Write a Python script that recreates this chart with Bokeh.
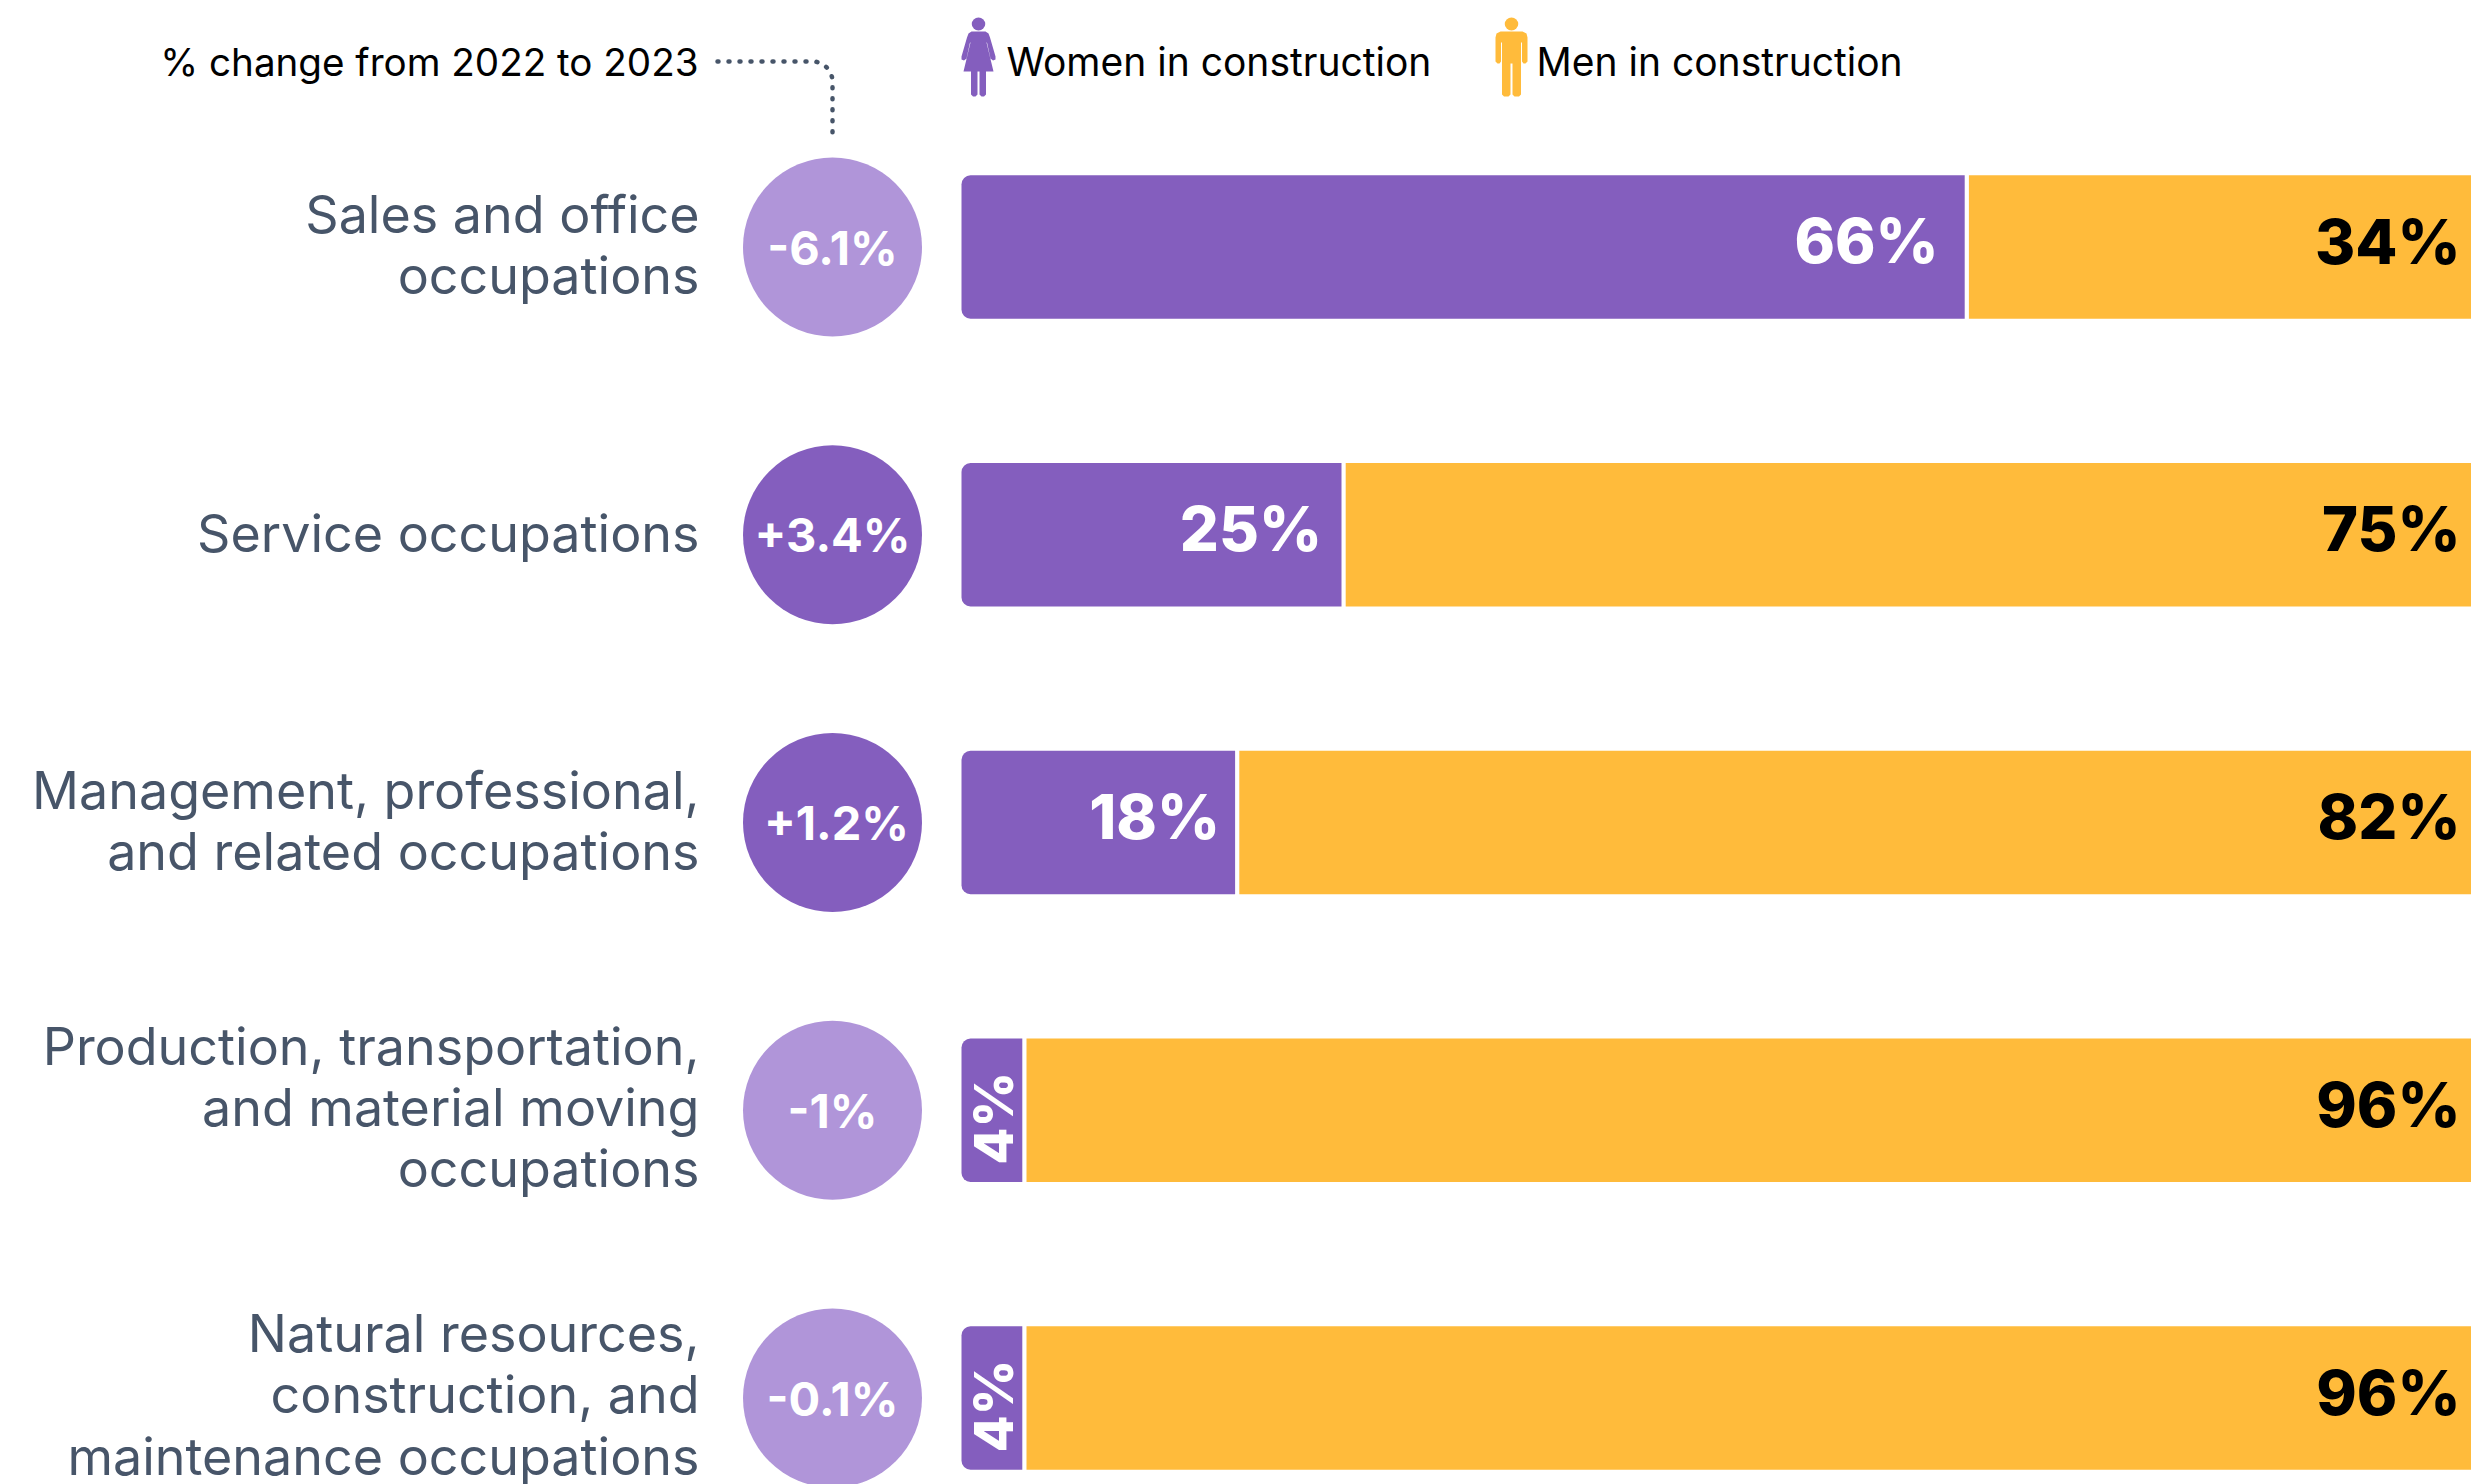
from bokeh.plotting import figure
from bokeh.models import Range1d
from bokeh.core.properties import value
from bokeh.embed import file_html
from bokeh.resources import INLINE
import math

categories = [
    "Sales and office\noccupations",
    "Service occupations",
    "Management, professional,\nand related occupations",
    "Production, transportation,\nand material moving\noccupations",
    "Natural resources,\nconstruction, and\nmaintenance occupations",
]
women = [66, 25, 18, 4, 4]
men = [34, 75, 82, 96, 96]
change = [-6.1, 3.4, 1.2, -1, -0.1]
change_labels = ["-6.1%", "+3.4%", "+1.2%", "-1%", "-0.1%"]
header = "% change from 2022 to 2023"
legend_women = "Women in construction"
legend_men = "Men in construction"

PURPLE = "#845EBE"
LIGHT = "#B095D9"
ORANGE = "#FFBB3B"
SLATE = "#475569"
FONT = value("Inter")
HEAVY = value("Inter ExtraBold")

W, H = 2471, 1484
X0, PX_PER = 961.0, 15.2
Y0, ROW = 246.5, 287.75
GAP = 4.2 / PX_PER
BAR_H = 143.5 / ROW
rows = list(range(len(categories)))

p = figure(width=W, height=H, toolbar_location=None, output_backend="svg",
           x_range=Range1d(-X0 / PX_PER, (W - X0) / PX_PER),
           y_range=Range1d((H - Y0) / ROW, -Y0 / ROW),
           min_border=0, styles={"position": "absolute", "left": "0px", "top": "0px"})
p.extra_x_ranges = {"px": Range1d(0, W)}
p.extra_y_ranges = {"py": Range1d(H, 0)}
p.xaxis.visible = False
p.yaxis.visible = False
p.grid.visible = False
p.outline_line_color = None
p.background_fill_color = "white"
p.border_fill_color = "white"

# bars
p.hbar(y=rows, left=[w + GAP for w in women], right=[w + m for w, m in zip(women, men)],
       height=BAR_H, color=ORANGE, line_color=None)
p.hbar(y=rows, left=[0] * 5, right=women, height=BAR_H, color=PURPLE, line_color=None,
       border_radius=(9, 0, 0, 9))

# value labels in bars
big = [i for i in rows if women[i] > 10]
p.text(x=[women[i] for i in big], y=big, text=[f"{women[i]}%" for i in big],
       text_color="white", text_font=HEAVY, text_font_size="46pt",
       text_align="right", text_baseline="middle", x_offset=[-26, -19.5, -15], y_offset=-6)
small = [i for i in rows if women[i] <= 10]
p.text(x=[women[i] / 2 for i in small], y=small, text=[f"{women[i]}%" for i in small],
       angle=math.pi / 2, text_color="white", text_font=HEAVY,
       text_font_size="54px", text_align="center", text_baseline="middle", x_offset=2, y_offset=8)
p.text(x=[100] * 5, y=rows, text=[f"{m}%" for m in men], text_color="black", text_font=HEAVY,
       text_font_size="46pt", text_align="right",
       text_baseline="middle", x_offset=-21, y_offset=-5.5)

# change circles
p.scatter(x=[832] * 5, y=rows, size=179, x_range_name="px", line_color=None,
          fill_color=[LIGHT if c < 0 else PURPLE for c in change])
p.text(x=[832] * 5, y=rows, text=change_labels, x_range_name="px", text_color="white",
       text_font=FONT, text_font_style="bold", text_font_size="47px",
       text_align="center", text_baseline="middle", x_offset=[0, 0, 4, 0, 0], y_offset=0)

# category labels
p.text(x=[699] * 5, y=rows, text=categories, x_range_name="px", text_color=SLATE,
       text_font=FONT, text_font_size="52px", text_align="right", text_baseline="middle",
       text_line_height=0.97, y_offset=[-2, -1, -1.5, -3, -3])

# header + legend
p.text(x=[698], y=[61], text=[header], x_range_name="px", y_range_name="py", text_color="black",
       text_font=FONT, text_font_size="38.6px", text_align="right", text_baseline="middle")
p.text(x=[1006], y=[61], text=[legend_women], x_range_name="px", y_range_name="py", text_color="black",
       text_font=FONT, text_font_size="39px", text_align="left", text_baseline="middle")
p.text(x=[1536], y=[61], text=[legend_men], x_range_name="px", y_range_name="py", text_color="black",
       text_font=FONT, text_font_size="39px", text_align="left", text_baseline="middle")

# dotted leader
lx, ly = [717, 812], [61, 61]
for a in range(1, 9):
    t = a / 8 * math.pi / 2
    lx.append(812 + 20 * math.sin(t))
    ly.append(81 - 20 * math.cos(t))
lx.append(832); ly.append(140)
p.line(lx, ly, x_range_name="px", y_range_name="py", line_color=SLATE, line_width=4.5,
       line_dash="1 10", line_cap="round")

# legend icons
def mirror(cx, half):
    xs = [cx + d for d, _ in half] + [cx - d for d, _ in reversed(half)]
    ys = [y for _, y in half] + [y for _, y in reversed(half)]
    return xs, ys

woman_half = [(0, 31), (7, 31), (10, 33), (11.5, 37), (17, 56), (17, 59), (14.5, 60), (12, 58),
              (8.5, 42), (8, 42), (15, 71), (7.5, 71), (7.5, 94), (5.5, 96), (3, 96), (1, 94),
              (1, 71), (0, 71)]
man_half = [(0, 31), (11, 31), (15, 33), (16, 37), (16, 61), (14, 63), (12, 63), (10.5, 61),
            (10.5, 42), (9.5, 42), (9.5, 94), (7.5, 96), (3, 96), (1, 94), (1, 63), (0, 63)]
wx, wy = mirror(978, woman_half)
mx, my = mirror(1511, man_half)
p.patch(wx, wy, x_range_name="px", y_range_name="py", color=PURPLE, line_color=None)
p.patch(mx, my, x_range_name="px", y_range_name="py", color=ORANGE, line_color=None)
p.ellipse(x=[978], y=[23.5], width=13.5, height=13, x_range_name="px", y_range_name="py",
          color=PURPLE, line_color=None)
p.ellipse(x=[1511], y=[23.5], width=13.5, height=13, x_range_name="px", y_range_name="py",
          color=ORANGE, line_color=None)

open("out.html", "w").write(file_html(p, INLINE))
